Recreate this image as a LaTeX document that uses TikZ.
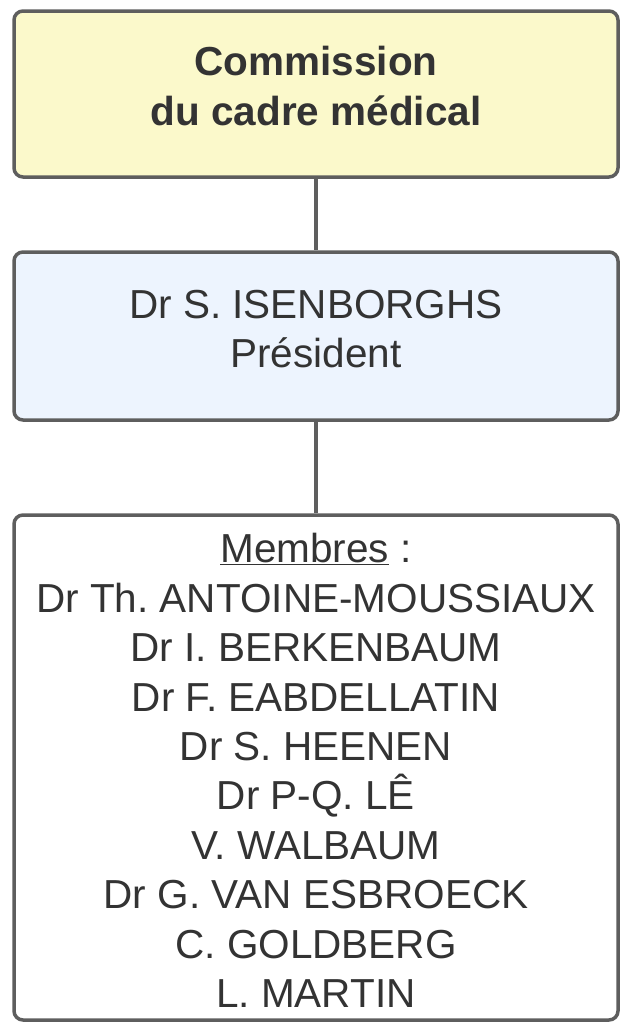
\documentclass[tikz,border=0pt]{standalone}
\usepackage{fontspec}
\setmainfont{Liberation Sans}
\frenchspacing
\definecolor{edge}{HTML}{5E5E5E}
\definecolor{ink}{HTML}{333333}
\definecolor{yfill}{HTML}{FBF9CB}
\definecolor{bfill}{HTML}{EDF4FE}
\tikzset{
  orgbox/.style={draw=edge, line width=3.5pt, rounded corners=9pt, rectangle,
    minimum width=604pt, inner sep=0pt},
  txt/.style={align=center, text=ink, inner sep=0pt,
    font=\fontsize{40.5}{49.4}\selectfont},
  link/.style={draw=edge, line width=3.5pt}
}
\begin{document}
\begin{tikzpicture}[x=1pt,y=1pt]
\useasboundingbox (0,0) rectangle (621,-1023);
\node[orgbox, fill=yfill, minimum height=166pt] (cmd) at (316,-94) {};
\node[orgbox, fill=bfill, minimum height=168pt] (pres) at (316,-336) {};
\node[orgbox, fill=white, minimum height=505pt] (mem) at (316,-767.5) {};
\node[txt] (cmdtxt) at (316,-86) {\bfseries Commission\\\bfseries du cadre médical};
\node[txt] (prestxt) at (316,-329) {Dr S. ISENBORGHS\\Président};
\node[txt] (memtxt) at (316,-770.5) {\underline{Membres} :\\Dr Th. ANTOINE-MOUSSIAUX\\Dr I. BERKENBAUM\\Dr F. EABDELLATIN\\Dr S. HEENEN\\Dr P-Q. LÊ\\V. WALBAUM\\Dr G. VAN ESBROECK\\C. GOLDBERG\\L. MARTIN};
\draw[link] (cmd) -- (pres);
\draw[link] (pres) -- (mem);
\end{tikzpicture}
\end{document}
